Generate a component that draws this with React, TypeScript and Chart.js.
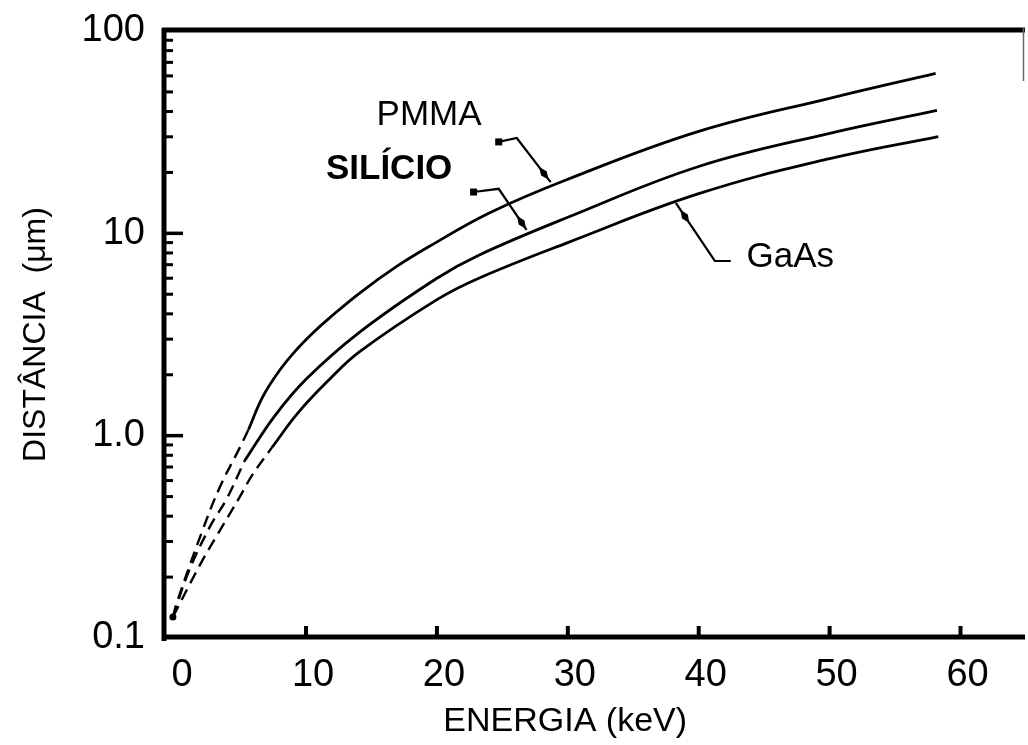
import React, { useEffect, useRef } from "react";
import { Chart, registerables } from "chart.js";

Chart.register(...registerables);

// ---- axis setup ----
const energyMin = -0.85;
const energyMax = 64.85;
const distMin = 0.1;
const distMax = 100;
const xTickValues = [0, 10, 20, 30, 40, 50, 60];
const xTickMarks = [10, 20, 30, 40, 50, 60];
const yLabelValues = [0.1, 1, 10, 100];
const yLabelTexts = ["0.1", "1.0", "10", "100"];
const yMajorMarks = [1, 10];
const yMinorMarks = [
  0.2, 0.3, 0.4, 0.5, 0.6, 0.7, 0.8, 0.9,
  2, 3, 4, 5, 6, 7, 8, 9,
  20, 30, 40, 50, 60, 70, 80, 90,
];
const xTitle = "ENERGIA (keV)";
const yTitle = "DISTÂNCIA  (μm)";

// ---- series (energy keV, distance µm) ----
const originE = [-0.17];
const originV = [0.127];

const pmmaDashE = [-0.17, 0.15, 2.05, 3.4, 4.95, 5.6];
const pmmaDashV = [0.127, 0.151, 0.335, 0.554, 0.875, 1.07];
const pmmaE = [5.6, 6.7, 8.0, 9.25, 10.5, 11.8, 14.1, 16.9, 19.4, 24, 30, 40, 50, 58.1];
const pmmaV = [1.07, 1.56, 2.11, 2.65, 3.21, 3.82, 5.07, 6.84, 8.6, 12.6, 18.5, 31.9, 46.5, 61.8];

const siDashE = [-0.17, 1.0, 2.66, 3.96, 5.3];
const siDashV = [0.127, 0.21, 0.355, 0.49, 0.75];
const siE = [5.3, 7.6, 10, 14.1, 20, 23.2, 30, 40, 50, 58.2];
const siV = [0.75, 1.25, 1.9, 3.25, 6.0, 7.8, 12, 21.4, 31.2, 40.5];

const gaasDashE = [-0.17, 1.9, 3.3, 4.95, 5.9, 7.4];
const gaasDashV = [0.127, 0.23, 0.33, 0.5, 0.64, 0.875];
const gaasE = [7.4, 9.4, 11.8, 14.1, 20, 23.2, 30, 40, 50, 58.3];
const gaasV = [0.875, 1.3, 1.9, 2.6, 4.7, 6.0, 9, 15.7, 23.4, 30.1];

// ---- annotations (data coordinates) ----
const labelNames = ["PMMA", "SILÍCIO", "GaAs"];
const labelE = [19.4, 16.35, 47.0];
const labelV = [38.5, 20.6, 7.64];
const labelBold = [false, true, false];

const leaderE = [
  [24.72, 26.1, 28.69],
  [22.8, 24.72, 26.85],
  [38.26, 41.23, 42.45],
];
const leaderV = [
  [28.3, 29.6, 17.9],
  [16.0, 16.6, 10.4],
  [14.1, 7.3, 7.3],
];
const leaderSquare = [true, true, false];
const leaderDiamondSeg = [1, 1, 0];
const leaderDiamondT = [0.8, 0.82, 0.23];

const FONT = "'Liberation Sans', Arial, Helvetica, sans-serif";

const zip = (xs: number[], ys: number[]) => xs.map((x, i) => ({ x, y: ys[i] }));

const solid = (label: string, xs: number[], ys: number[]) => ({
  label,
  data: zip(xs, ys),
  showLine: true,
  borderColor: "#000",
  borderWidth: 2.8,
  pointRadius: 0,
  tension: 0.4,
  fill: false,
});

const dashed = (label: string, xs: number[], ys: number[]) => ({
  ...solid(label, xs, ys),
  borderWidth: 2.4,
  borderDash: [12, 7],
});

const framePlugin = {
  id: "frame",
  afterDraw(chart: any) {
    const { ctx, chartArea } = chart;
    const xs = chart.scales.x;
    const ys = chart.scales.y;
    const L = chartArea.left;
    const B = chartArea.bottom;
    const T = chartArea.top;
    const R = chartArea.right;
    ctx.save();
    ctx.strokeStyle = "#000";
    ctx.fillStyle = "#000";
    ctx.lineCap = "butt";

    // axes
    ctx.lineWidth = 5;
    ctx.beginPath();
    ctx.moveTo(L, T - 3);
    ctx.lineTo(L, B + 3);
    ctx.stroke();
    ctx.beginPath();
    ctx.moveTo(L - 2, B - 1);
    ctx.lineTo(R + 1, B - 1);
    ctx.stroke();
    ctx.beginPath();
    ctx.moveTo(L - 2, T - 1);
    ctx.lineTo(R + 1, T - 1);
    ctx.stroke();
    ctx.lineWidth = 1.5;
    ctx.strokeStyle = "#666";
    ctx.beginPath();
    ctx.moveTo(R - 0.5, T - 3);
    ctx.lineTo(R - 0.5, T + 50);
    ctx.stroke();
    ctx.strokeStyle = "#000";

    // y ticks (inward)
    ctx.lineWidth = 3.5;
    yMajorMarks.forEach((v) => {
      const y = ys.getPixelForValue(v);
      ctx.beginPath();
      ctx.moveTo(L, y);
      ctx.lineTo(L + 19, y);
      ctx.stroke();
    });
    ctx.lineWidth = 3;
    yMinorMarks.forEach((v) => {
      const y = ys.getPixelForValue(v);
      ctx.beginPath();
      ctx.moveTo(L, y);
      ctx.lineTo(L + 9, y);
      ctx.stroke();
    });
    // x ticks (inward)
    ctx.lineWidth = 4;
    xTickMarks.forEach((v) => {
      const x = xs.getPixelForValue(v);
      ctx.beginPath();
      ctx.moveTo(x, B);
      ctx.lineTo(x, B - 12);
      ctx.stroke();
    });

    // x title
    ctx.font = `34px ${FONT}`;
    ctx.textAlign = "center";
    ctx.textBaseline = "middle";
    ctx.fillText(xTitle, xs.getPixelForValue(29.8), B + 84);

    // annotation labels
    labelNames.forEach((name, i) => {
      ctx.font = `${labelBold[i] ? "bold " : ""}35px ${FONT}`;
      ctx.fillText(name, xs.getPixelForValue(labelE[i]), ys.getPixelForValue(labelV[i]));
    });

    // leaders
    ctx.lineWidth = 2.2;
    leaderE.forEach((es, i) => {
      const pts = es.map((e, j) => [xs.getPixelForValue(e), ys.getPixelForValue(leaderV[i][j])]);
      ctx.beginPath();
      pts.forEach((p, j) => (j === 0 ? ctx.moveTo(p[0], p[1]) : ctx.lineTo(p[0], p[1])));
      ctx.stroke();
      if (leaderSquare[i]) {
        ctx.fillRect(pts[0][0] - 3.5, pts[0][1] - 3.5, 7, 7);
      }
      const s = leaderDiamondSeg[i];
      const a = pts[s];
      const b = pts[s + 1];
      const t = leaderDiamondT[i];
      const cx = a[0] + (b[0] - a[0]) * t;
      const cy = a[1] + (b[1] - a[1]) * t;
      const len = Math.hypot(b[0] - a[0], b[1] - a[1]);
      const ux = (b[0] - a[0]) / len;
      const uy = (b[1] - a[1]) / len;
      const nx = -uy;
      const ny = ux;
      ctx.beginPath();
      ctx.moveTo(cx + ux * 8, cy + uy * 8);
      ctx.lineTo(cx + nx * 3.5, cy + ny * 3.5);
      ctx.lineTo(cx - ux * 8, cy - uy * 8);
      ctx.lineTo(cx - nx * 3.5, cy - ny * 3.5);
      ctx.closePath();
      ctx.fill();
    });
    ctx.restore();
  },
};

export default function App() {
  const canvasRef = useRef<HTMLCanvasElement | null>(null);

  useEffect(() => {
    if (!canvasRef.current) return;
    const chart = new Chart(canvasRef.current, {
      type: "scatter",
      data: {
        datasets: [
          dashed("PMMA (extrapolado)", pmmaDashE, pmmaDashV),
          solid("PMMA", pmmaE, pmmaV),
          dashed("SILÍCIO (extrapolado)", siDashE, siDashV),
          solid("SILÍCIO", siE, siV),
          dashed("GaAs (extrapolado)", gaasDashE, gaasDashV),
          solid("GaAs", gaasE, gaasV),
          {
            label: "origem",
            data: zip(originE, originV),
            showLine: false,
            pointRadius: 3.5,
            pointBackgroundColor: "#000",
            pointBorderWidth: 0,
          },
        ] as any,
      },
      options: {
        responsive: false,
        animation: false,
        events: [],
        layout: { padding: { top: 31, right: 1, left: 0, bottom: 0 } },
        plugins: {
          legend: { display: false },
          tooltip: { enabled: false },
        },
        scales: {
          x: {
            type: "linear",
            min: energyMin,
            max: energyMax,
            grid: { display: false, drawTicks: false },
            border: { display: false },
            afterBuildTicks: (scale: any) => {
              scale.ticks = xTickValues.map((v) => ({ value: v }));
            },
            afterFit: (scale: any) => {
              scale.height = 107;
              scale.paddingLeft = 0;
              scale.paddingRight = 0;
            },
            ticks: {
              autoSkip: false,
              maxRotation: 0,
              padding: 15,
              labelOffset: 7,
              color: "#000",
              font: { family: FONT, size: 38 },
              callback: (v: any) => String(v),
            },
          },
          y: {
            type: "logarithmic",
            min: distMin,
            max: distMax,
            grid: { display: false, drawTicks: false },
            border: { display: false },
            afterBuildTicks: (scale: any) => {
              scale.ticks = yLabelValues.map((v) => ({ value: v, major: true }));
            },
            afterFit: (scale: any) => {
              scale.width = 164;
              scale.paddingTop = 0;
              scale.paddingBottom = 0;
            },
            title: {
              display: true,
              text: yTitle,
              color: "#000",
              font: { family: FONT, size: 32, weight: "normal" },
              padding: { top: 17, bottom: 0 },
            },
            ticks: {
              autoSkip: false,
              padding: 19,
              color: "#000",
              font: { family: FONT, size: 38 },
              callback: (v: any) => {
                const i = yLabelValues.findIndex((t) => Math.abs(t - Number(v)) < 1e-9 * Math.max(1, t));
                return i >= 0 ? yLabelTexts[i] : "";
              },
            },
          },
        },
      },
      plugins: [framePlugin],
    });
    return () => chart.destroy();
  }, []);

  return (
    <div style={{ position: "absolute", left: 0, top: 0, width: 1028, height: 745, background: "#fff" }}>
      <canvas ref={canvasRef} width={1028} height={745} style={{ display: "block" }} />
    </div>
  );
}
